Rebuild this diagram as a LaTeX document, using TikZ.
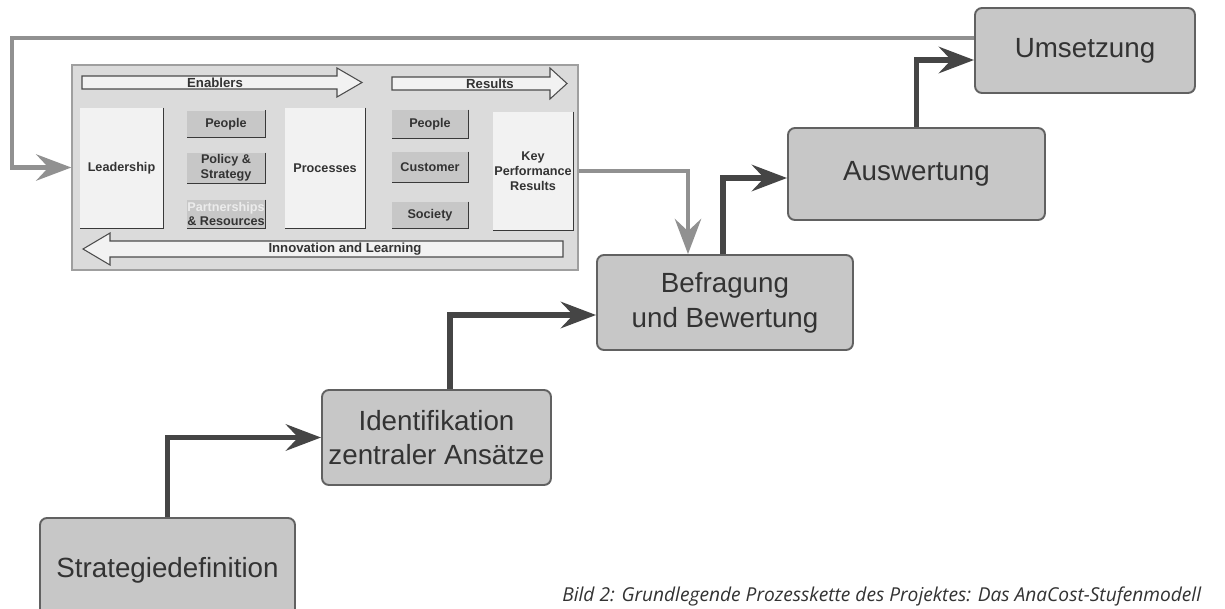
\documentclass[tikz,border=0pt]{standalone}
\usepackage{fontspec}
\setmainfont{Liberation Sans}
\newfontfamily\captionfont{Open Sans}
\usetikzlibrary{arrows.meta}

\newdimen\pxu \pxu=0.02cm
\definecolor{boxfill}{gray}{0.78}
\definecolor{boxline}{gray}{0.38}
\definecolor{darkline}{gray}{0.27}
\definecolor{loopline}{gray}{0.57}
\definecolor{modelfill}{gray}{0.86}
\definecolor{pillfill}{gray}{0.78}
\definecolor{panelfill}{gray}{0.95}
\definecolor{txt}{gray}{0.2}

\begin{document}
\begin{tikzpicture}[x=\pxu,y=-\pxu]
		\useasboundingbox (0,0) rectangle (1225,609);
		\clip (0,0) rectangle (1225,609);
		\fill[white] (0,0) rectangle (1225,609);

		% the EFQM model
		\node[draw=gray!75,line width=0.8pt,fill=modelfill,minimum width=506\pxu,minimum height=205\pxu] (efqm) at (325,167.5) {};
		\begin{scope}[draw=gray!60!black,line width=0.6pt,fill=panelfill]
			\filldraw (82,76) -- (337,76) -- (337,68) -- (362,82.5) -- (337,97) -- (337,89) -- (82,89) -- cycle;
			\filldraw (392,77) -- (550,77) -- (550,68) -- (567,83.5) -- (550,99) -- (550,90) -- (392,90) -- cycle;
			\filldraw (563,241) -- (110,241) -- (110,233) -- (83,249) -- (110,265) -- (110,257) -- (563,257) -- cycle;
		\end{scope}

		\begin{scope}[every node/.style={inner sep=0pt,text=txt,align=center,font=\fontsize{7.5}{8.6}\selectfont\bfseries}]
			\node (enablers) at (215,82.5) {Enablers};
			\node (results) at (490,83.5) {Results};
			\node (innov) at (345,249) {Innovation and Learning};
		\end{scope}

		\begin{scope}[every node/.style={rectangle,inner sep=0pt,text=txt,align=center,font=\fontsize{7.2}{8.4}\selectfont\bfseries}]
			\node[fill=panelfill,minimum width=83\pxu,minimum height=120\pxu] (lead) at (121.5,168) {Leadership};
			\node[fill=pillfill,minimum width=78\pxu,minimum height=27\pxu] (pplE) at (226,124) {People};
			\node[fill=pillfill,minimum width=78\pxu,minimum height=30\pxu] (policy) at (226,168) {Policy \&\\Strategy};
			\node[fill=pillfill,minimum width=78\pxu,minimum height=28\pxu] (partner) at (226,214) {\textcolor{white!85!gray}{Partnerships}\\\& Resources};
			\node[fill=panelfill,minimum width=80\pxu,minimum height=120\pxu] (proc) at (325,168) {Processes};
			\node[fill=pillfill,minimum width=76\pxu,minimum height=28\pxu] (pplR) at (430,124) {People};
			\node[fill=pillfill,minimum width=76\pxu,minimum height=30\pxu] (cust) at (430,167) {Customer};
			\node[fill=pillfill,minimum width=76\pxu,minimum height=26\pxu] (soc) at (430,215) {Society};
			\node[fill=panelfill,minimum width=80\pxu,minimum height=118\pxu] (kpr) at (533,171) {Key\\Performance\\Results};
		\end{scope}
		\foreach \n in {lead,pplE,policy,partner,proc,pplR,cust,soc,kpr}
			\draw[gray!45!black,line width=0.7pt] (\n.north east) -- (\n.south east) -- (\n.south west);

		% process steps
		\begin{scope}[every node/.style={rectangle,rounded corners=7\pxu,draw=boxline,line width=1.1pt,fill=boxfill,text=txt,align=center,font=\fontsize{15.8}{19.8}\selectfont}]
			\node[minimum width=220\pxu,minimum height=85\pxu] (umsetz) at (1085,50.5) {Umsetzung};
			\node[minimum width=257\pxu,minimum height=92\pxu] (ausw) at (916.5,174) {Auswertung};
			\node[minimum width=256\pxu,minimum height=95\pxu] (befr) at (725,302.5) {Befragung\\und Bewertung};
			\node[minimum width=229\pxu,minimum height=95\pxu] (ident) at (436.5,437.5) {Identifikation\\zentraler Ans\"atze};
			\node[minimum width=255\pxu,minimum height=104\pxu] (strat) at (167.5,570) {Strategiedefinition};
		\end{scope}

		\coordinate (loopcorner) at (12,167.5);

		\begin{scope}[>={Stealth[length=20pt,width=15pt,inset=7pt]},
					  flow/.style={draw=darkline,line width=3.2pt},
					  feedback/.style={draw=loopline,line width=2.4pt}]
			\draw [flow,->] (strat.north) |- (ident.west);
			\draw [flow,->] ([xshift=13.5\pxu]ident.north) |- ([yshift=-12.5\pxu]befr.west);
			\draw [flow,->] ([xshift=-2\pxu]befr.north) |- ([yshift=-4\pxu]ausw.west);
			\draw [flow,->] (ausw.north) |- ([yshift=-9.5\pxu]umsetz.west);

			\draw [feedback,->] ([yshift=12.5\pxu]umsetz.west) -| (loopcorner) -- (efqm.west);
			\draw [feedback,->] (efqm.east |- kpr.east) -| ([xshift=-37\pxu]befr.north);
		\end{scope}

		\node[anchor=base west,inner sep=0pt,text=txt,font=\captionfont\itshape\fontsize{10.9}{13}\selectfont] (caption) at (562,601) {Bild 2: Grundlegende Prozesskette des Projektes: Das AnaCost-Stufenmodell};
\end{tikzpicture}
\end{document}
